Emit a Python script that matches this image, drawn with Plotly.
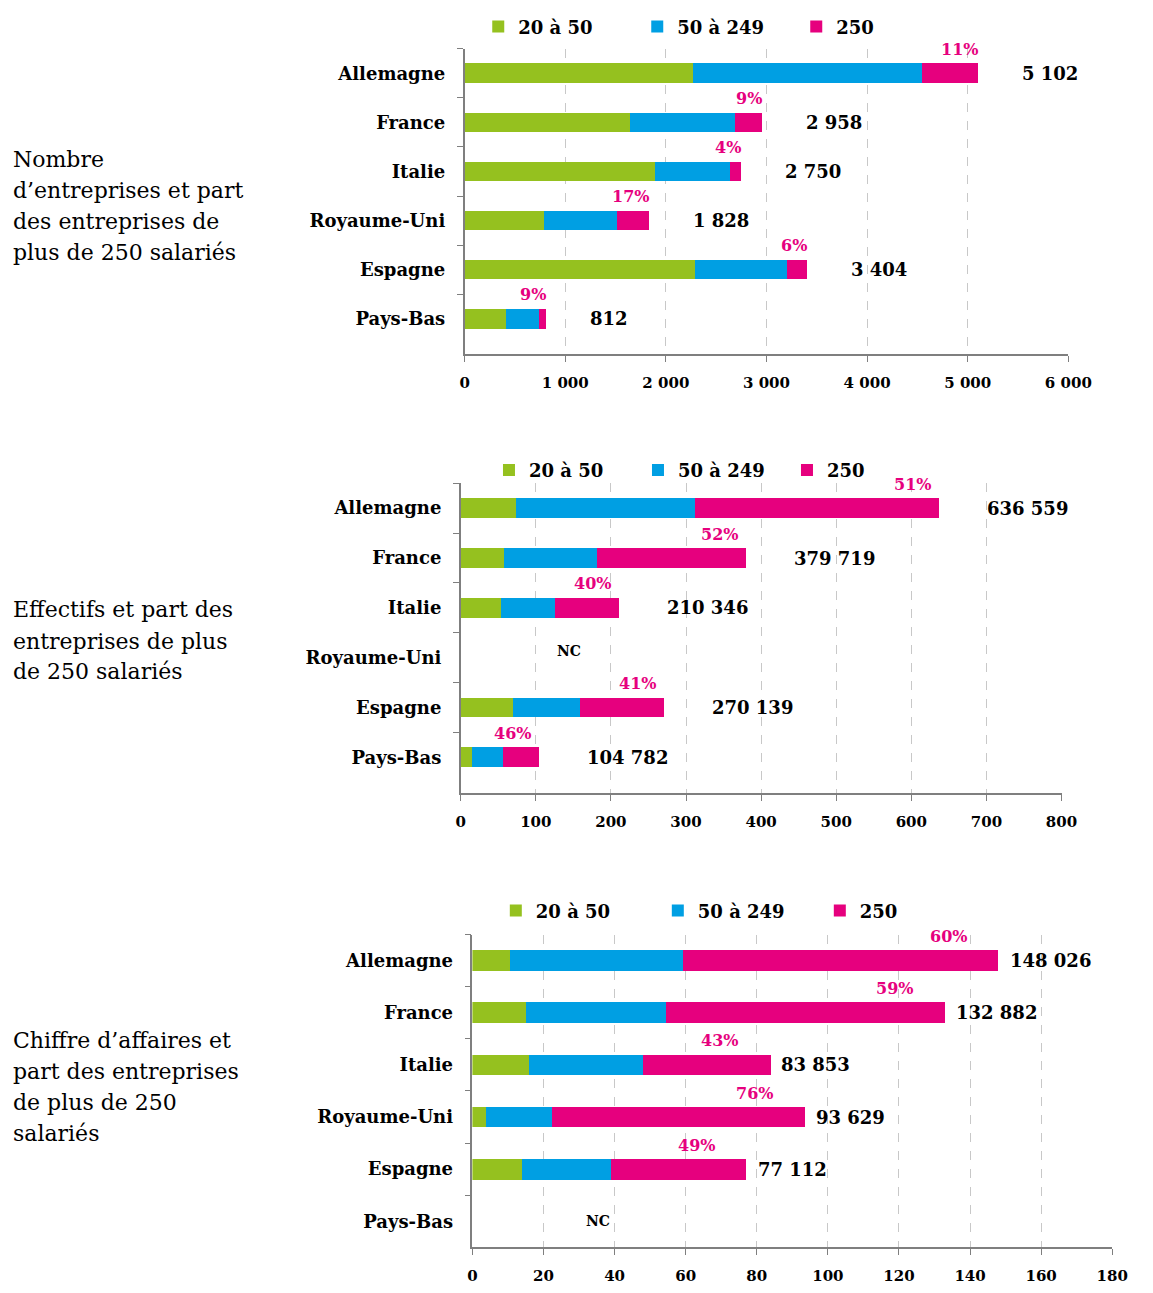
import plotly.graph_objects as go

countries = ["Allemagne", "France", "Italie", "Royaume-Uni", "Espagne", "Pays-Bas"]
series_names = ["20 à 50", "50 à 249", "250"]
series_colors = ["#95C11F", "#009FE3", "#E6007E"]

# Chart 1: number of companies
c1_small = [2266, 1646, 1888, 794, 2287, 415]
c1_mid = [2275, 1046, 752, 723, 913, 324]
c1_large = [561, 266, 110, 311, 204, 73]
c1_totals = [5102, 2958, 2750, 1828, 3404, 812]
c1_pct = [11, 9, 4, 17, 6, 9]
c1_ticks = [0, 1000, 2000, 3000, 4000, 5000, 6000]

# Chart 2: employees (thousands)
c2_small = [74, 57, 53.5, None, 69, 15]
c2_mid = [238, 125, 72.7, None, 90.4, 41.6]
c2_large = [324.6, 197.7, 84.1, None, 110.7, 48.2]
c2_totals = [636559, 379719, 210346, None, 270139, 104782]
c2_pct = [51, 52, 40, None, 41, 46]
c2_ticks = [0, 100, 200, 300, 400, 500, 600, 700, 800]

# Chart 3: turnover
c3_small = [10.7, 15.1, 16, 3.9, 14, None]
c3_mid = [48.5, 39.4, 31.9, 18.6, 25.1, None]
c3_large = [88.8, 78.4, 36.0, 71.1, 38.0, None]
c3_totals = [148026, 132882, 83853, 93629, 77112, None]
c3_pct = [60, 59, 43, 76, 49, None]
c3_ticks = [0, 20, 40, 60, 80, 100, 120, 140, 160, 180]

side_titles = [
    ["Nombre", "d’entreprises et part", "des entreprises de", "plus de 250 salariés"],
    ["Effectifs et part des", "entreprises de plus", "de 250 salariés"],
    ["Chiffre d’affaires et", "part des entreprises", "de plus de 250", "salariés"],
]

FONT = "DejaVu Serif"
WIN_W, WIN_H = 1153, 1293
OFF = 8  # default page body margin
W, H = WIN_W - 2 * OFF, WIN_H - 2 * OFF


def px(x):
    return (x - OFF) / W


def py(y):
    return 1 - (y - OFF) / H


charts = [
    dict(data=[c1_small, c1_mid, c1_large], totals=c1_totals, scale=1, pct=c1_pct,
         ticks=c1_ticks, xdom=(471, 1090), ydom=(47, 355), leg=(485, 25), entry=114,
         tot_shift=42, pct_shift=2, nc=None, title_y=[159, 190, 221, 252]),
    dict(data=[c2_small, c2_mid, c2_large], totals=c2_totals, scale=1000, pct=c2_pct,
         ticks=c2_ticks, xdom=(467, 1083), ydom=(485, 797), leg=(496, 472), entry=104,
         tot_shift=46, pct_shift=-6, nc=("Royaume-Uni", 144, -7), title_y=[612, 644, 675]),
    dict(data=[c3_small, c3_mid, c3_large], totals=c3_totals, scale=1000, pct=c3_pct,
         ticks=c3_ticks, xdom=(479, 1135), ydom=(940, 1255), leg=(503, 916), entry=117,
         tot_shift=9, pct_shift=-30, nc=("Pays-Bas", 35.4, 0), title_y=[1047, 1078, 1109, 1140]),
]

fig = go.Figure()
annotations = []
layout_axes = {}

for i, ch in enumerate(charts):
    n = "" if i == 0 else str(i + 1)
    xref, yref = "x" + n, "y" + n
    legname = "legend" + n
    for name, color, vals in zip(series_names, series_colors, ch["data"]):
        fig.add_trace(go.Bar(
            y=countries, x=vals, name=name, orientation="h",
            marker=dict(color=color, line=dict(width=0)), width=0.4,
            xaxis=xref, yaxis=yref, legend=legname, showlegend=True,
        ))
    x0, x1 = ch["xdom"]
    y0, y1 = ch["ydom"]
    layout_axes["xaxis" + n] = dict(
        domain=[px(x0), px(x1)], range=[0, ch["ticks"][-1]], tickvals=ch["ticks"],
        tickformat=",d", anchor=yref, showline=True, linecolor="#7f7f7f", linewidth=1.5,
        ticks="outside", ticklen=6, tickcolor="#7f7f7f", showgrid=True,
        gridcolor="#c8c8c8", griddash="dash", gridwidth=1, zeroline=False,
        tickfont=dict(family=FONT, size=15, color="black", weight="bold"),
        ticklabelstandoff=8, fixedrange=True,
    )
    layout_axes["yaxis" + n] = dict(
        domain=[py(y1), py(y0)], type="category", categoryarray=countries,
        autorange="reversed", anchor=xref, showline=True, linecolor="#7f7f7f",
        linewidth=1.5, ticks="outside", ticklen=6, tickcolor="#7f7f7f",
        tickson="boundaries", showgrid=False, zeroline=False,
        tickfont=dict(family=FONT, size=18, color="black", weight="bold"),
        ticklabelstandoff=14, fixedrange=True,
    )
    lx, ly = ch["leg"]
    layout_axes[legname] = dict(
        orientation="h", x=px(lx), y=py(ly), xanchor="left", yanchor="middle",
        xref="paper", yref="paper", entrywidth=ch["entry"], entrywidthmode="pixels",
        font=dict(family=FONT, size=18, color="black", weight="bold"),
        bgcolor="rgba(0,0,0,0)", traceorder="normal",
    )
    # totals & pct labels
    for c, tot, p in zip(countries, ch["totals"], ch["pct"]):
        if tot is None:
            continue
        xv = tot / ch["scale"]
        annotations.append(dict(
            x=xv, y=c, xref=xref, yref=yref, text=f"{tot:,}".replace(",", " "),
            showarrow=False, xanchor="left", yanchor="middle", xshift=ch["tot_shift"],
            font=dict(family=FONT, size=18, color="black", weight="bold"),
        ))
        annotations.append(dict(
            x=xv, y=c, xref=xref, yref=yref, text=f"{p}%", showarrow=False,
            xanchor="right", yanchor="middle", xshift=ch["pct_shift"], yshift=24,
            font=dict(family=FONT, size=16, color="#E6007E", weight="bold"),
        ))
    if ch["nc"]:
        c, xv, ys = ch["nc"]
        annotations.append(dict(
            x=xv, y=c, xref=xref, yref=yref, text="NC", showarrow=False,
            xanchor="center", yanchor="middle", yshift=-ys,
            font=dict(family=FONT, size=14, color="black", weight="bold"),
        ))
    for line, ty in zip(side_titles[i], ch["title_y"]):
        annotations.append(dict(
            x=0, y=py(ty), xref="paper", yref="paper", text=line, xshift=-2,
            showarrow=False, xanchor="left", yanchor="middle",
            font=dict(family=FONT, size=22, color="black"),
        ))

fig.update_layout(
    width=W, height=H, margin=dict(l=0, r=0, t=0, b=0),
    paper_bgcolor="white", plot_bgcolor="white", barmode="stack",
    separators=", ", annotations=annotations, **layout_axes,
)

fig.write_html("out.html")
